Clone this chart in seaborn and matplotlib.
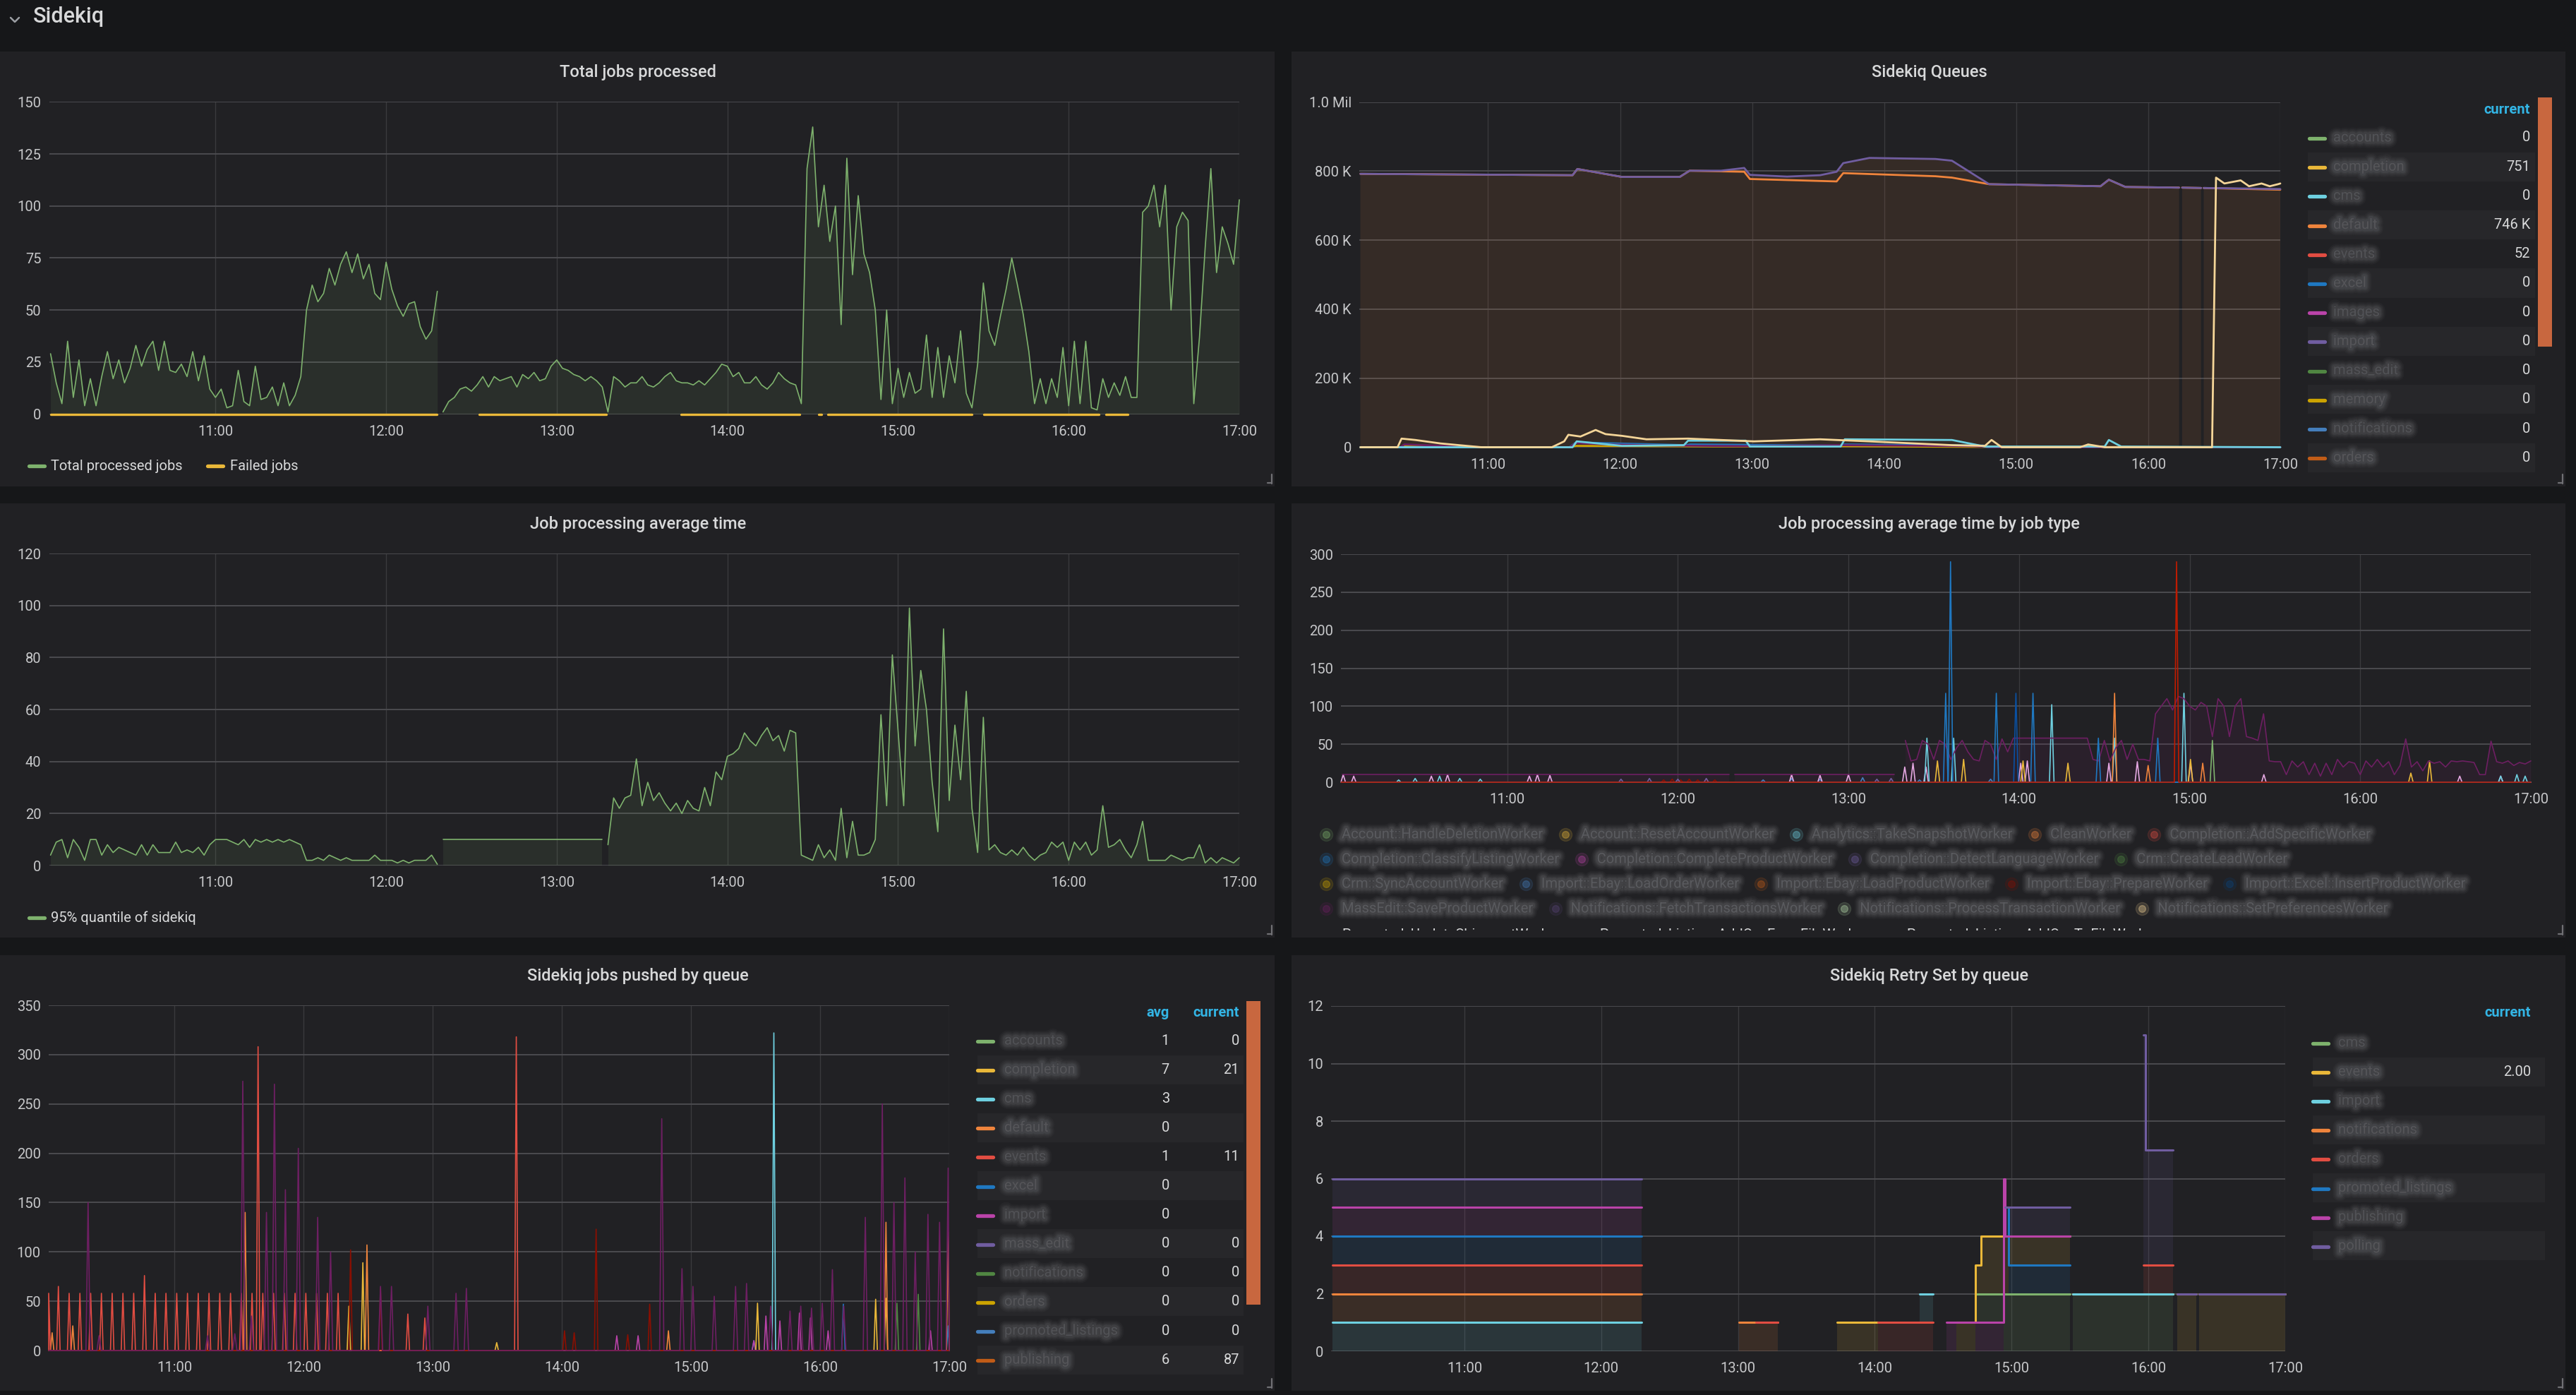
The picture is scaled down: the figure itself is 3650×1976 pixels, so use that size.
import numpy as np
import pandas as pd
from matplotlib import pyplot as plt
import matplotlib.patheffects as pe
from matplotlib.lines import Line2D
from matplotlib.patches import Rectangle
from matplotlib.transforms import Bbox, TransformedBbox
import seaborn as sns

sns.set_theme(style="dark")
plt.rcParams["font.family"] = ["Roboto", "DejaVu Sans"]

N = np.nan

# x axis: minutes after 10:00
X_FROM, X_TO = 1.5, 420
HOUR_TICKS = [60, 120, 180, 240, 300, 360, 420]
HOUR_LABELS = ["11:00", "12:00", "13:00", "14:00", "15:00", "16:00", "17:00"]

# grafana classic palette
GREEN, YELLOW, CYAN, ORANGE = "#7EB26D", "#EAB839", "#6ED0E0", "#EF843C"
RED, BLUE, MAGENTA, PURPLE = "#E24D42", "#1F78C1", "#BA43A9", "#705DA0"
DKGREEN, GOLD, BLUE2, DKORANGE = "#508642", "#CCA300", "#447EBC", "#C15C17"
DKRED, NAVY, PLUM, GRAPE = "#890F02", "#0A437C", "#6D1F62", "#584477"
MINT, SAND, SKY, PEACH, ROSE = "#B7DBAB", "#F4D598", "#70DBED", "#F9BA8F", "#F29191"
PINK, BRIGHTRED, DEEPBLUE = "#E5A8E2", "#BF1B00", "#0A50A1"

# ---------------- Total jobs processed (2 min samples) ----------------
processed_a_start = 2
processed_a = [29, 15, 5, 35, 8, 26, 4, 17, 4, 18,
               30, 17, 26, 15, 22, 33, 23, 31, 35, 21,
               35, 21, 20, 24, 18, 30, 16, 28, 12, 8,
               12, 3, 4, 21, 6, 4, 23, 7, 8, 13,
               4, 15, 4, 9, 18, 50, 62, 54, 58, 70,
               62, 72, 78, 68, 77, 65, 72, 58, 55, 73,
               60, 52, 47, 53, 54, 42, 36, 40, 59]
processed_b_start = 140
processed_b = [1, 6, 8, 12, 13, 11, 14, 18, 13, 18,
               16, 17, 18, 13, 19, 17, 20, 16, 17, 23,
               26, 22, 21, 19, 18, 16, 18, 16, 13, 1,
               18, 16, 13, 15, 15, 18, 14, 13, 15, 18,
               20, 16, 15, 15, 14, 16, 14, 17, 20, 24,
               23, 18, 20, 15, 15, 18, 14, 12, 15, 20,
               17, 15, 14, 5, 118, 138, 90, 110, 83, 100,
               43, 123, 67, 105, 77, 68, 50, 7, 50, 5,
               22, 8, 20, 10, 12, 38, 8, 32, 8, 28,
               15, 40, 10, 3, 24, 63, 40, 33, 47, 60,
               75, 62, 48, 30, 5, 17, 5, 17, 8, 32,
               4, 35, 5, 35, 3, 2, 17, 8, 15, 9,
               18, 8, 8, 97, 100, 110, 90, 110, 50, 90,
               97, 93, 5, 37, 80, 118, 68, 90, 82, 72,
               103]
failed_from = [2, 152.7, 223.6, 272.2, 275.3, 330.2, 373.0]
failed_to = [137.8, 197.5, 265.3, 273.0, 325.9, 370.7, 380.7]

# ---------------- Job processing average time (2 min samples) ----------------
p95_a_start = 2
p95_a = [4, 9, 10, 3, 10, 7, 2, 10, 10, 4,
         8, 5, 7, 6, 5, 4, 8, 4, 8, 5,
         5, 5, 9, 5, 6, 5, 7, 4, 8, 10,
         10, 10, 9, 8, 10, 7, 10, 9, 10, 9,
         10, 9, 10, 9, 8, 2, 2, 3, 2, 4,
         3, 2, 3, 2, 2, 2, 2, 4, 2, 2,
         2, 1, 2, 1, 2, 2, 2, 4, 0.5]
p95_flat_t = [140, 196]
p95_flat = [10, 10]
p95_b_start = 198
p95_b = [8,
         26, 22, 26, 27, 41, 23, 32, 25, 28, 24,
         21, 24, 20, 25, 22, 21, 30, 23, 36, 33,
         42, 43, 45, 51, 48, 46, 50, 53, 48, 50,
         44, 52, 51, 4, 3, 2, 8, 3, 6, 2,
         22, 3, 17, 4, 4, 5, 10, 58, 23, 81,
         52, 23, 99, 46, 75, 60, 32, 13, 91, 25,
         54, 33, 67, 22, 5, 57, 6, 8, 5, 4,
         6, 4, 7, 4, 2, 4, 5, 9, 7, 9,
         2, 9, 6, 9, 4, 6, 23, 7, 8, 10,
         6, 3, 8, 17, 2, 2, 2, 2, 4, 3,
         2, 3, 3, 8, 1, 3, 1, 3, 2, 1,
         3]

# ---------------- Sidekiq Queues (thousands of jobs) ----------------
q_import_t = [2, 98.4, 100.6, 120.9, 147.1, 151.6, 165.9, 176.4, 179.0, 195.9, 210.9, 218.4, 221.4,
              233.3, 263.3, 270.8, 287.7, 338.3, 342.1, 349.6, 374.0, 374.7, 375.4, 384.0, 384.5, 385.2, 420]
q_import_v = [792, 788, 806, 783, 783, 801, 801, 809, 789, 784, 788, 798, 823,
              838, 835, 830, 762, 756, 775, 754, 752, N, 752, 751, N, 751, 748]
q_default_t = [2, 98.4, 100.6, 120.9, 147.1, 151.6, 176.4, 179.0, 218.4, 221.4, 263.3, 270.8, 287.7,
               338.3, 342.1, 349.6, 374.0, 374.7, 375.4, 384.0, 384.5, 385.2, 420]
q_default_v = [792, 788, 806, 783, 783, 801, 798, 777, 770, 794, 785, 781, 762,
               756, 775, 754, 752, N, 752, 751, N, 751, 746]
q_sand_t = [2, 18.9, 20.7, 27.0, 38.4, 57.0, 89.0, 94.6, 96.5, 102.0, 108.9, 113.4, 120.9, 132.0, 150.9, 180.8,
            210.9, 233.3, 270.8, 285.8, 288.8, 293.4, 329.0, 332.7, 340.2, 389.0, 390.8, 394.6, 402.0, 405.8,
            411.5, 415.2, 419.0, 420]
q_sand_v = [0, 0, 25, 21, 11, 0, 0, 17, 36, 31, 50, 38, 33, 23, 25, 17,
            23, 17, 6, 4, 21, 0, 0, 8, 0, 0, 781, 764, 773, 756,
            764, 756, 762, 764]
q_cms_t = [2, 98.4, 100.3, 120.9, 149.0, 150.9, 177.1, 179.0, 220.2, 222.1, 270.8, 285.8, 340.2, 342.1, 347.7, 420]
q_cms_v = [0, 0, 17, 4, 6, 19, 19, 2, 2, 23, 21, 2, 2, 21, 2, 0]
q_plum_t = [2, 20, 22, 40, 57, 97, 100, 115, 140, 180, 220, 280, 290, 420]
q_plum_v = [0, 0, 8, 4, 0, 0, 12, 8, 5, 3, 6, 3, 0, 0]
q_excel_t = [2, 97, 100, 150, 152, 220, 222, 285, 287, 420]
q_excel_v = [0, 0, 14, 6, 8, 5, 8, 5, 0, 0]
q_memory_t = [2, 20, 22, 60, 97, 100, 180, 222, 280, 420]
q_memory_v = [0, 0, 3, 0, 0, 4, 2, 3, 1, 0]

QUEUE_NAMES = ["accounts", "completion", "cms", "default", "events", "excel", "images", "import",
               "mass_edit", "memory", "notifications", "orders"]
QUEUE_COLORS = [GREEN, YELLOW, CYAN, ORANGE, RED, BLUE, MAGENTA, PURPLE, DKGREEN, GOLD, BLUE2, DKORANGE]
QUEUE_CURRENT = ["0", "751", "0", "746 K", "52", "0", "0", "0", "0", "0", "0", "0"]

# ---------------- Job processing average time by job type ----------------
JOBTYPE_ROWS = [
    ["Account::HandleDeletionWorker", "Account::ResetAccountWorker", "Analytics::TakeSnapshotWorker",
     "CleanWorker", "Completion::AddSpecificWorker"],
    ["Completion::ClassifyListingWorker", "Completion::CompleteProductWorker",
     "Completion::DetectLanguageWorker", "Crm::CreateLeadWorker"],
    ["Crm::SyncAccountWorker", "Import::Ebay::LoadOrderWorker", "Import::Ebay::LoadProductWorker",
     "Import::Ebay::PrepareWorker", "Import::Excel::InsertProductWorker"],
    ["MassEdit::SaveProductWorker", "Notifications::FetchTransactionsWorker",
     "Notifications::ProcessTransactionWorker", "Notifications::SetPreferencesWorker"],
    ["Promoted::UpdateShipmentWorker", "Promoted::ListingsAddOn::FromFileWorker",
     "Promoted::ListingsAddOn::ToFileWorker"],
]
JOBTYPE_COLORS = [GREEN, YELLOW, CYAN, ORANGE, RED, BLUE, MAGENTA, PURPLE, DKGREEN, GOLD, BLUE2,
                  DKORANGE, DKRED, NAVY, PLUM, GRAPE, MINT, SAND, SKY, PEACH, ROSE]

masssave_a_t = [2, 138]
masssave_a = [10, 10]
masssave_b_t = [140, 196]
masssave_b = [10, 10]
masssave_c_start = 200
masssave_c = [55, 28, 30, 55, 50, 30, 55, 50, 30, 45, 55, 40, 30, 28, 55, 50, 30, 57, 40, 58,
              58, 58, 58, 58, 58, 58, 58, 58, 58, 58, 58, 58, 58, 30, 28, 55, 28, 45, 55, 30,
              50, 30, 30, 28, 90, 100, 110, 95, 113, 110,
              100, 95, 105, 100, 60, 110, 100, 60, 100, 110, 60, 58, 55, 90, 28, 27, 27, 10, 28, 20,
              27, 10, 25, 8, 25, 10, 30, 20, 27, 25,
              10, 28, 20, 30, 20, 27, 10, 22, 57, 20, 27, 15, 28, 25, 27, 20, 28, 27, 28, 27,
              26, 10, 10, 54, 27, 25, 28, 22, 26, 24, 28]

jt_classify_t = [214.2, 215.9, 232.0, 244.9, 267.9, 288.8]
jt_classify_v = [117, 290, 117, 117, 58, 58]
jt_deepblue_t = [238.9]
jt_deepblue_v = [117]
jt_snapshot_t = [21.8, 27.6, 36.2, 43.3, 50.5, 207.6, 217.0, 251.5, 273.6, 298.0, 409.4, 415.1, 418.0]
jt_snapshot_v = [3, 5, 8, 5, 4, 58, 58, 102, 58, 117, 8, 10, 8]
jt_clean_t = [273.6, 285.4, 304.6]
jt_clean_v = [117, 22, 25]
jt_brightred_t = [295.4]
jt_brightred_v = [290]
jt_deletion_t = [308.0]
jt_deletion_v = [55]
jt_reset_t = [211.3, 220.5, 241.4, 257.2, 300.3, 377.8, 384.4]
jt_reset_v = [28, 30, 28, 25, 30, 12, 28]
jt_pink_t = [2.3, 6.0, 33.3, 39.0, 67.8, 70.6, 75.0, 160.0, 170.0, 180.0, 199.8, 202.7, 207.3, 240.6,
             242.9, 271.6, 281.6, 300.3, 326.1, 395.0, 409.4]
jt_pink_v = [10, 8, 8, 10, 8, 10, 9, 10, 9, 10, 20, 25, 20, 25, 28, 25, 27, 25, 10, 8, 8]
jt_detect_t = [100, 110, 120, 130, 190, 195]
jt_detect_v = [4, 5, 4, 5, 4, 5]
jt_prepare_t = [115, 118, 121, 124, 127, 130, 133]
jt_prepare_v = [3, 4, 3, 4, 3, 4, 3]
jt_loadorder_t = [150, 160, 170, 185, 205, 230]
jt_loadorder_v = [3, 5, 4, 6, 3, 4]

# ---------------- Sidekiq jobs pushed by queue ----------------
push_events_t = [1.5, 6, 11, 16, 21, 26, 31, 36, 41, 46, 51, 56, 61, 66, 71, 76, 81, 86, 91, 96,
                 98.8, 101, 106, 111, 116, 121, 126, 131, 136, 168.4, 176.3, 218.8]
push_events_v = [58, 65, 58, 58, 58, 58, 58, 58, 58, 76, 58, 58, 58, 58, 58, 58, 58, 58, 58, 58,
                 308, 58, 58, 58, 58, 58, 58, 58, 58, 37, 33, 318]
push_plum_t = [19.8, 24.9, 75.3, 88.0, 91.7, 95.7, 102.7, 106.4, 111.5, 117.5,
               126.5, 132.5, 155.7, 160.8, 177.7, 190.8, 195.6, 286.4, 295.8, 300.9,
               310.8, 320.7, 325.8, 337.0, 346.0, 351.0, 356.0, 361.0, 365.7, 371.0,
               381.0, 388.9, 394.3, 399.4, 404.2, 410.1, 415.5, 419.5]
push_plum_v = [150, 15, 15, 17, 273, 35, 140, 270, 163, 205,
               135, 100, 65, 65, 45, 58, 63, 235, 83, 65,
               55, 65, 68, 45, 40, 45, 43, 48, 82, 45,
               135, 250, 150, 175, 100, 138, 130, 185]
push_default_t = [3.1, 12.7, 92.8, 149.4, 289.5, 390.6, 419.5]
push_default_v = [18, 25, 140, 107, 20, 130, 120]
push_dkred_t = [141.8, 155.7, 241.2, 245.7, 255.9, 270.6, 280.8]
push_dkred_v = [102, 63, 20, 18, 123, 16, 47]
push_completion_t = [141.0, 147.5, 209.7, 330.9, 385.8, 390.6]
push_completion_v = [45, 89, 8, 48, 52, 53]
push_cms_t = [338.5]
push_cms_v = [322]
push_excel_t = [329.2, 370.8, 419.5]
push_excel_v = [10, 47, 25]
push_import_t = [265.5, 275.4, 329.2, 334.8, 341.3, 350.4, 355.5, 363.7, 411.3]
push_import_v = [15, 15, 10, 35, 30, 38, 33, 20, 20]
push_notif_t = [395.7, 405.6]
push_notif_v = [48, 57]

PUSH_NAMES = ["accounts", "completion", "cms", "default", "events", "excel", "import", "mass_edit",
              "notifications", "orders", "promoted_listings", "publishing"]
PUSH_COLORS = [GREEN, YELLOW, CYAN, ORANGE, RED, BLUE, MAGENTA, PURPLE, DKGREEN, GOLD, BLUE2, DKORANGE]
PUSH_AVG = ["1", "7", "3", "0", "1", "0", "0", "0", "0", "0", "0", "6"]
PUSH_CURRENT = ["0", "21", "", "", "11", "", "", "0", "0", "0", "0", "87"]

# ---------------- Sidekiq Retry Set by queue (stacked levels, step after each time) ----------------
retry_t = [2, 137.6, 180.3, 187.8, 197.5, 223.5, 241.5, 259.6, 265.4, 271.5, 275.6, 284.0, 284.5,
           286.7, 296.4, 297.2, 298.6, 325.5, 326.9, 357.9, 358.8, 370.7, 372.6, 380.9, 382.3, 420]
retry_cms = [N, N, N, N, N, N, N, N, N, N, N, N, 2, 2, 2, 2, 2, N, 2, 2, 2, N, N, N, N, N]
retry_events = [N, N, N, N, N, 1, N, N, N, N, 1, 3, 3, 4, 4, 4, 4, N, 2, 2, 2, N, 2, N, 2, N]
retry_import = [1, N, N, N, N, N, N, 2, N, N, N, N, N, N, N, N, N, N, 2, 2, 2, N, N, N, N, N]
retry_notifications = [2, N, 1, 1, N, N, N, N, N, N, N, N, N, N, N, N, N, N, N, N, N, N, N, N, N, N]
retry_orders = [3, N, N, 1, N, N, 1, 1, N, N, N, N, N, N, N, N, N, N, N, 3, 3, N, N, N, N, N]
retry_promoted = [4, N, N, N, N, N, N, N, N, N, N, N, N, N, N, 5, 3, N, N, N, N, N, N, N, N, N]
retry_publishing = [5, N, N, N, N, N, N, N, N, 1, 1, 1, 1, 1, 6, 4, 4, N, N, N, N, N, N, N, N, N]
retry_polling = [6, N, N, N, N, N, N, N, N, N, N, N, N, N, N, 5, 5, N, N, 11, 7, N, 2, N, 2, N]

RETRY_NAMES = ["cms", "events", "import", "notifications", "orders", "promoted_listings", "publishing", "polling"]
RETRY_COLORS = [GREEN, YELLOW, CYAN, ORANGE, RED, BLUE, MAGENTA, PURPLE]
RETRY_CURRENT = ["", "2.00", "", "", "", "", "", ""]

# ====================================================================
W, H = 3650, 1976
PAGE_BG = "#161719"
PANEL_BG = "#212124"
BAND_BG = "#27272a"
TEXT_C = "#d8d9da"
TICK_C = "#c7c8ca"
GRID_H = "#4b4b4f"
GRID_V = "#3a3a3d"
HEAD_C = "#33b5e5"
SCROLL_C = "#c8673f"
FS_TICK = 14.5

fig = plt.figure(figsize=(W / 100, H / 100), dpi=100, facecolor=PAGE_BG)


def fx(x):
    return x / W


def fy(y):
    return 1 - y / H


def fig_line(xs, ys, **kw):
    fig.add_artist(Line2D([fx(v) for v in xs], [fy(v) for v in ys], transform=fig.transFigure, **kw))


def fig_rect(x0, y0, x1, y1, color, z=-1):
    fig.add_artist(Rectangle((fx(x0), fy(y1)), (x1 - x0) / W, (y1 - y0) / H, transform=fig.transFigure,
                             facecolor=color, edgecolor="none", zorder=z))


def fig_text(x, y, s, **kw):
    return fig.text(fx(x), fy(y), s, **kw)


def blurred_text(x, y, s, color="#8a8b8f", size=FS_TICK):
    # names are blurred in the screenshot: draw only soft wide strokes
    t = fig_text(x, y, s, ha="left", va="center", fontsize=size, color=color, alpha=0.0)
    t.set_path_effects([pe.Stroke(linewidth=13, foreground=color, alpha=0.05),
                        pe.Stroke(linewidth=10, foreground=color, alpha=0.07),
                        pe.Stroke(linewidth=7, foreground=color, alpha=0.09),
                        pe.Stroke(linewidth=4.5, foreground=color, alpha=0.11)])
    return t


def panel(box, title, title_y):
    x0, y0, x1, y1 = box
    fig_rect(x0, y0, x1, y1, PANEL_BG, z=-2)
    fig_text((x0 + x1) / 2 + 1, title_y, title, ha="center", va="center", fontsize=17,
             color=TEXT_C, fontweight="medium")
    fig_line([x1 - 4, x1 - 4], [y1 - 17, y1 - 4], color="#707074", lw=1.6)
    fig_line([x1 - 10, x1 - 4], [y1 - 5, y1 - 5], color="#707074", lw=1.6)


def make_axes(box, ymax, ystep, ylabels=None):
    x0, y0, x1, y1 = box
    ax = fig.add_axes([fx(x0), fy(y1), (x1 - x0) / W, (y1 - y0) / H])
    ax.set_facecolor("none")
    ax.set_xlim(X_FROM, X_TO)
    ax.set_ylim(0, ymax)
    ax.set_xticks(HOUR_TICKS, HOUR_LABELS)
    yt = np.arange(0, ymax + ystep * 0.5, ystep)
    ax.set_yticks(yt, ylabels if ylabels else [f"{int(v)}" for v in yt])
    for s in ax.spines.values():
        s.set_visible(False)
    ax.tick_params(axis="both", length=0, labelsize=FS_TICK, labelcolor=TICK_C)
    ax.tick_params(axis="x", pad=11)
    ax.tick_params(axis="y", pad=8)
    ax.yaxis.grid(True, color=GRID_H, lw=1.4)
    ax.xaxis.grid(True, color=GRID_V, lw=1.0)
    ax.set_axisbelow(True)
    ax.set_xlabel("")
    ax.set_ylabel("")
    return ax


def frame(name, t, v):
    t = np.asarray(t, float)
    v = np.asarray(v, float)
    seg = np.cumsum(np.isnan(v))
    df = pd.DataFrame({"t": t, "v": v, "series": name, "seg": [f"{name}-{s}" for s in seg]})
    return df.dropna()


def spikes(name, times, vals, half=0.8):
    t, v = [X_FROM], [0.0]
    for ti, vi in zip(times, vals):
        t += [max(ti - half, X_FROM), ti, min(ti + half, X_TO)]
        v += [0.0, vi, 0.0]
    t.append(X_TO)
    v.append(0.0)
    return frame(name, t, v)


def draw_lines(ax, frames, palette, lw):
    data = pd.concat(frames, ignore_index=True)
    sns.lineplot(data=data, x="t", y="v", hue="series", units="seg", estimator=None, sort=False,
                 palette=palette, lw=lw, ax=ax, legend=False, clip_on=False)
    ax.set_xlabel("")
    ax.set_ylabel("")


def legend_table(names, colors, columns, header_y, x_marker, x_name, y_first, step, band):
    for i, (name, col) in enumerate(zip(names, colors)):
        y = y_first + i * step
        if i % 2 == 1:
            fig_rect(band[0], y - step / 2, band[1], y + step / 2, BAND_BG, z=-1)
        fig_line([x_marker, x_marker + 22], [y + 1, y + 1], color=col, lw=3.8, solid_capstyle="round")
        blurred_text(x_name, y, name)
        for _, xr, vals in columns:
            if vals[i]:
                fig_text(xr, y, vals[i], ha="right", va="center", fontsize=FS_TICK, color=TEXT_C)
    for header, xr, _ in columns:
        fig_text(xr, header_y, header, ha="right", va="center", fontsize=FS_TICK, color=HEAD_C,
                 fontweight="bold")


# ---------------- header ----------------
fig_text(47, 32, "Sidekiq", fontsize=22, color=TEXT_C, va="baseline", fontweight="medium")
fig_line([15, 21, 27], [25, 31, 25], color="#9b9ea3", lw=1.8)

# ---------------- panel 1: Total jobs processed ----------------
panel((0, 73, 1806, 689), "Total jobs processed", 103)
ax1 = make_axes((69.6, 144.5, 1756, 586.5), 150, 25)
t_pa = processed_a_start + 2 * np.arange(len(processed_a))
t_pb = processed_b_start + 2 * np.arange(len(processed_b))
for t, v in ((t_pa, processed_a), (t_pb, processed_b)):
    ax1.fill_between(t, v, color=GREEN, alpha=0.1, lw=0)
failed_frames = [frame("Failed jobs-%d" % i, [a, b], [0, 0]) for i, (a, b) in enumerate(zip(failed_from, failed_to))]
failed_df = pd.concat(failed_frames)
failed_df["series"] = "Failed jobs"
draw_lines(ax1, [frame("a", t_pa, processed_a).assign(series="Total processed jobs"),
                 frame("b", t_pb, processed_b).assign(series="Total processed jobs"), failed_df],
           {"Total processed jobs": GREEN, "Failed jobs": YELLOW}, 1.2)
for ln in ax1.get_lines():
    if ln.get_color().lower() == YELLOW.lower():
        ln.set_linewidth(2.4)
fig_line([41, 63], [660, 660], color=GREEN, lw=3.8, solid_capstyle="round")
fig_text(72, 660, "Total processed jobs", va="center", fontsize=FS_TICK, color=TEXT_C)
fig_line([294, 316], [660, 660], color=YELLOW, lw=3.8, solid_capstyle="round")
fig_text(326, 660, "Failed jobs", va="center", fontsize=FS_TICK, color=TEXT_C)

# ---------------- panel 2: Sidekiq Queues ----------------
panel((1830, 73, 3635, 689), "Sidekiq Queues", 103)
ax2 = make_axes((1926, 144.5, 3231, 633.5), 1000, 200, ["0", "200 K", "400 K", "600 K", "800 K", "1.0 Mil"])
ax2.fill_between(q_import_t, np.asarray(q_import_v, float), color=ORANGE, alpha=0.1, lw=0)
draw_lines(ax2, [frame("memory", q_memory_t, q_memory_v), frame("excel", q_excel_t, q_excel_v),
                 frame("hidden_plum", q_plum_t, q_plum_v), frame("cms", q_cms_t, q_cms_v),
                 frame("default", q_default_t, q_default_v), frame("import", q_import_t, q_import_v),
                 frame("hidden_sand", q_sand_t, q_sand_v)],
           {"memory": GOLD, "excel": BLUE, "hidden_plum": PLUM, "cms": CYAN, "default": ORANGE,
            "import": PURPLE, "hidden_sand": SAND}, 2.0)
legend_table(QUEUE_NAMES, QUEUE_COLORS, [("current", 3585, QUEUE_CURRENT)], 155,
             3272, 3306, 195, 41.2, (3270, 3592))
fig_rect(3596, 138, 3616, 491, SCROLL_C, z=-1)

# ---------------- panel 3: Job processing average time ----------------
panel((0, 713, 1806, 1328), "Job processing average time", 743)
ax3 = make_axes((69.6, 784, 1756, 1226), 120, 20)
t_qa = p95_a_start + 2 * np.arange(len(p95_a))
t_qb = p95_b_start + 2 * np.arange(len(p95_b))
for t, v in ((t_qa, p95_a), (p95_flat_t, p95_flat), (t_qb, p95_b)):
    ax3.fill_between(t, v, color=GREEN, alpha=0.1, lw=0)
draw_lines(ax3, [frame("a", t_qa, p95_a).assign(series="p95"), frame("f", p95_flat_t, p95_flat).assign(series="p95"),
                 frame("b", t_qb, p95_b).assign(series="p95")], {"p95": GREEN}, 1.2)
fig_line([41, 63], [1300, 1300], color=GREEN, lw=3.8, solid_capstyle="round")
fig_text(72, 1300, "95% quantile of sidekiq", va="center", fontsize=FS_TICK, color=TEXT_C)

# ---------------- panel 4: by job type ----------------
panel((1830, 713, 3635, 1328), "Job processing average time by job type", 743)
ax4 = make_axes((1900, 785, 3586, 1108), 300, 50)
t_mc = masssave_c_start + 2 * np.arange(len(masssave_c))
for t, v in ((masssave_a_t, masssave_a), (masssave_b_t, masssave_b), (t_mc, masssave_c)):
    ax4.fill_between(t, v, color=PLUM, alpha=0.12, lw=0)
jt_frames = [
    spikes("Import::Ebay::PrepareWorker", jt_prepare_t, jt_prepare_v),
    spikes("Import::Ebay::LoadOrderWorker", jt_loadorder_t, jt_loadorder_v),
    spikes("Completion::DetectLanguageWorker", jt_detect_t, jt_detect_v),
    spikes("hidden_pink", jt_pink_t, jt_pink_v),
    spikes("Analytics::TakeSnapshotWorker", jt_snapshot_t, jt_snapshot_v),
    spikes("Account::ResetAccountWorker", jt_reset_t, jt_reset_v),
    spikes("Account::HandleDeletionWorker", jt_deletion_t, jt_deletion_v),
    spikes("CleanWorker", jt_clean_t, jt_clean_v),
    frame("mass-a", masssave_a_t, masssave_a).assign(series="MassEdit::SaveProductWorker"),
    frame("mass-b", masssave_b_t, masssave_b).assign(series="MassEdit::SaveProductWorker"),
    frame("mass-c", t_mc, masssave_c).assign(series="MassEdit::SaveProductWorker"),
    spikes("hidden_deepblue", jt_deepblue_t, jt_deepblue_v),
    spikes("Completion::ClassifyListingWorker", jt_classify_t, jt_classify_v),
    spikes("hidden_brightred", jt_brightred_t, jt_brightred_v),
]
all_jt = [n for row in JOBTYPE_ROWS for n in row]
jt_palette = dict(zip(all_jt, JOBTYPE_COLORS))
jt_palette.update({"hidden_pink": PINK, "hidden_deepblue": DEEPBLUE, "hidden_brightred": BRIGHTRED})
draw_lines(ax4, jt_frames, jt_palette, 1.2)

renderer = fig.canvas.get_renderer()
clip = TransformedBbox(Bbox.from_extents(fx(1830), fy(1318), fx(3635), fy(1160)), fig.transFigure)
for r, row in enumerate(JOBTYPE_ROWS):
    y = 1182 + 35 * r
    x = 1879
    for name in row:
        col = jt_palette[name]
        if r < 4:
            fig.add_artist(Line2D([fx(x)], [fy(y)], marker="o", ms=13, color=col, alpha=0.15,
                                  transform=fig.transFigure))
            fig.add_artist(Line2D([fx(x)], [fy(y)], marker="o", ms=7, color=col, alpha=0.35,
                                  transform=fig.transFigure))
            t = blurred_text(x + 22, y, name, color="#9a9b9f")
        else:
            t = fig_text(x + 22, y + 2, name, ha="left", va="center", fontsize=FS_TICK, color=TEXT_C)
            t.set_clip_box(clip)
            t.set_clip_on(True)
        w = t.get_window_extent(renderer=renderer).width
        x += 22 + w + 33

# ---------------- panel 5: jobs pushed by queue ----------------
panel((0, 1353, 1806, 1970), "Sidekiq jobs pushed by queue", 1383)
ax5 = make_axes((69, 1424, 1345, 1913), 350, 50)
push_frames = [
    spikes("notifications", push_notif_t, push_notif_v),
    spikes("excel", push_excel_t, push_excel_v),
    spikes("import", push_import_t, push_import_v),
    spikes("cms", push_cms_t, push_cms_v),
    spikes("completion", push_completion_t, push_completion_v),
    spikes("default", push_default_t, push_default_v),
    spikes("events", push_events_t, push_events_v),
    spikes("hidden_dkred", push_dkred_t, push_dkred_v),
    spikes("hidden_plum", push_plum_t, push_plum_v, half=1.0),
]
push_palette = dict(zip(PUSH_NAMES, PUSH_COLORS))
push_palette.update({"hidden_dkred": DKRED, "hidden_plum": PLUM})
draw_lines(ax5, push_frames, push_palette, 1.2)
legend_table(PUSH_NAMES, PUSH_COLORS, [("avg", 1657, PUSH_AVG), ("current", 1756, PUSH_CURRENT)], 1434,
             1385, 1423, 1474, 41.1, (1385, 1762))
fig_rect(1766, 1418, 1786, 1848, SCROLL_C, z=-1)

# ---------------- panel 6: Retry Set by queue ----------------
panel((1830, 1353, 3635, 1970), "Sidekiq Retry Set by queue", 1383)
ax6 = make_axes((1886, 1425, 3238, 1914), 12, 2)
retry_levels = np.array([retry_cms, retry_events, retry_import, retry_notifications, retry_orders,
                         retry_promoted, retry_publishing, retry_polling], dtype=float)
for k in range(len(retry_t) - 1):
    col = retry_levels[:, k]
    seen = []
    for i, lv in enumerate(col):
        if np.isnan(lv) or lv in seen:
            continue
        seen.append(lv)
        below = col[(~np.isnan(col)) & (col < lv)]
        floor = below.max() if below.size else 0
        ax6.fill_between([retry_t[k], retry_t[k + 1]], floor, lv, color=RETRY_COLORS[i], alpha=0.12, lw=0)
retry_frames = []
for name, levels in zip(RETRY_NAMES, retry_levels):
    t_s, v_s = [], []
    for k in range(len(retry_t) - 1):
        t_s += [retry_t[k], retry_t[k + 1]]
        v_s += [levels[k], levels[k]]
        if k + 1 < len(retry_t) - 1 and np.isnan(levels[k + 1]) and not np.isnan(levels[k]):
            t_s.append(retry_t[k + 1])
            v_s.append(np.nan)
    retry_frames.append(frame(name, t_s, v_s))
draw_lines(ax6, retry_frames, dict(zip(RETRY_NAMES, RETRY_COLORS)), 2.2)
legend_table(RETRY_NAMES, RETRY_COLORS, [("current", 3586, RETRY_CURRENT)], 1434,
             3277, 3313, 1477, 41.1, (3277, 3606))

fig.savefig("out.png", dpi=100, facecolor=PAGE_BG)
